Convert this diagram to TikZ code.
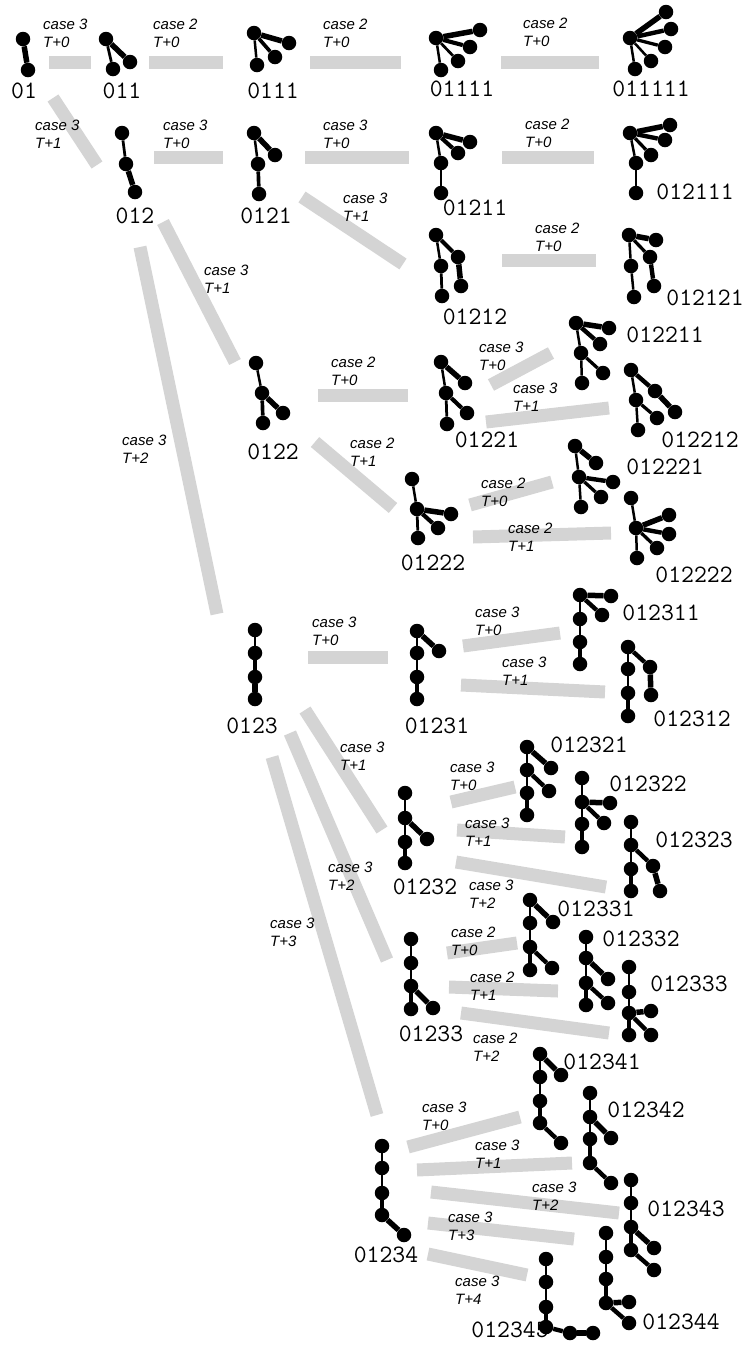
\documentclass[tikz,border=0pt]{standalone}
\usepackage{fontspec}
\newfontfamily\lblfont{Liberation Sans}
\definecolor{barc}{RGB}{212,212,212}
\tikzset{
  bar/.style={line width=13pt, draw=barc, line cap=butt},
  dot/.style={circle, fill=black, inner sep=0pt, minimum size=14.5pt},
  tl/.style={font=\fontsize{25}{25}\selectfont\ttfamily, inner sep=0pt},
  cl/.style={font=\fontsize{15}{18}\selectfont\lblfont\itshape, inner sep=0pt, anchor=base west},
}
\newcommand\conn[3]{\coordinate (#1s) at (#2); \coordinate (#1e) at (#3); \draw[bar] (#1s) -- (#1e);}
\newcommand\caselbl[4]{\node[cl] (#1) at (#2) {\vtop{\baselineskip=18pt\hbox{case #3}\hbox{T+#4}}};}
\newcommand\drawtree[3]{%
  \foreach \i/\x/\y/\p in {#3} {\node[dot] (#1-\i) at (\x,\y) {};}
  \foreach \i/\x/\y/\p in {#3} {\ifnum\i>0 \pgfmathsetmacro\w{max(2.5,5.5*\i/#2)}\draw[line width=\w pt] (#1-\p) -- (#1-\i);\fi}
}
\begin{document}
\begin{tikzpicture}[x=1pt,y=-1pt]
\useasboundingbox (0,0) rectangle (746,1345);
% connectors (gray bars)
\conn{b1}{49,62}{91,62}
\conn{b2}{149,62}{223,62}
\conn{b3}{310,62}{401,62}
\conn{b4}{501,62}{599,62}
\conn{b5}{53,98}{97,165}
\conn{b6}{154,157}{223,157}
\conn{b7}{305,157}{409,157}
\conn{b8}{502,157}{594,157}
\conn{b9}{302,197}{403,264}
\conn{b10}{502,260}{596,260}
\conn{b11}{163,222}{235,362}
\conn{b12}{140,247}{217,614}
\conn{b13}{318,395}{408,395}
\conn{b14}{315,442}{393,508}
\conn{b15}{491,385}{551,353}
\conn{b16}{486,422}{609,408}
\conn{b17}{470,505}{552,482}
\conn{b18}{473,537}{611,533}
\conn{b19}{308,657}{388,657}
\conn{b20}{463,646}{560,633}
\conn{b21}{461,685}{605,692}
\conn{b22}{305,710}{382,830}
\conn{b23}{290,733}{387,960}
\conn{b24}{272,757}{377,1115}
\conn{b25}{451,802}{515,787}
\conn{b26}{457,830}{565,837}
\conn{b27}{456,862}{606,887}
\conn{b28}{447,953}{517,943}
\conn{b29}{449,987}{558,991}
\conn{b30}{461,1013}{609,1033}
\conn{b31}{408,1147}{520,1117}
\conn{b32}{417,1170}{572,1163}
\conn{b33}{431,1192}{619,1213}
\conn{b34}{428,1223}{574,1239}
\conn{b35}{428,1254}{527,1275}
% connector labels
\caselbl{c1}{43,29}{3}{0}
\caselbl{c2}{153,29}{2}{0}
\caselbl{c3}{323,29}{2}{0}
\caselbl{c4}{523,28}{2}{0}
\caselbl{c5}{35,130}{3}{1}
\caselbl{c6}{163,130}{3}{0}
\caselbl{c7}{323,130}{3}{0}
\caselbl{c8}{525,129}{2}{0}
\caselbl{c9}{343,203}{3}{1}
\caselbl{c10}{204,275}{3}{1}
\caselbl{c11}{122,445}{3}{2}
\caselbl{c12}{331,367}{2}{0}
\caselbl{c13}{535,233}{2}{0}
\caselbl{c14}{479,352}{3}{0}
\caselbl{c15}{513,393}{3}{1}
\caselbl{c16}{350,448}{2}{1}
\caselbl{c17}{481,488}{2}{0}
\caselbl{c18}{508,533}{2}{1}
\caselbl{c19}{312,627}{3}{0}
\caselbl{c20}{475,617}{3}{0}
\caselbl{c21}{502,667}{3}{1}
\caselbl{c22}{340,752}{3}{1}
\caselbl{c23}{450,772}{3}{0}
\caselbl{c24}{465,828}{3}{1}
\caselbl{c25}{469,890}{3}{2}
\caselbl{c26}{328,872}{3}{2}
\caselbl{c27}{270,928}{3}{3}
\caselbl{c28}{451,937}{2}{0}
\caselbl{c29}{470,982}{2}{1}
\caselbl{c30}{473,1043}{2}{2}
\caselbl{c31}{422,1112}{3}{0}
\caselbl{c32}{475,1150}{3}{1}
\caselbl{c33}{532,1192}{3}{2}
\caselbl{c34}{448,1222}{3}{3}
\caselbl{c35}{455,1286}{3}{4}
% tree labels
\node[tl] (n01) at (24,91) {01};
\node[tl] (n011) at (122,91) {011};
\node[tl] (n0111) at (273,91) {0111};
\node[tl] (n01111) at (462,89) {01111};
\node[tl] (n011111) at (651,89) {011111};
\node[tl] (n012) at (135,216) {012};
\node[tl] (n0121) at (266,216) {0121};
\node[tl] (n01211) at (475,208) {01211};
\node[tl] (n012111) at (695,192) {012111};
\node[tl] (n01212) at (475,317) {01212};
\node[tl] (n012121) at (705,298) {012121};
\node[tl] (n012211) at (665,335) {012211};
\node[tl] (n01221) at (487,440) {01221};
\node[tl] (n012212) at (700,440) {012212};
\node[tl] (n0122) at (273,452) {0122};
\node[tl] (n012221) at (665,467) {012221};
\node[tl] (n01222) at (433,563) {01222};
\node[tl] (n012222) at (694,575) {012222};
\node[tl] (n012311) at (661,613) {012311};
\node[tl] (n0123) at (252,726) {0123};
\node[tl] (n01231) at (437,726) {01231};
\node[tl] (n012312) at (692,719) {012312};
\node[tl] (n012321) at (589,745) {012321};
\node[tl] (n012322) at (648,784) {012322};
\node[tl] (n012323) at (694,840) {012323};
\node[tl] (n01232) at (425,887) {01232};
\node[tl] (n012331) at (596,909) {012331};
\node[tl] (n012332) at (641,939) {012332};
\node[tl] (n012333) at (689,984) {012333};
\node[tl] (n01233) at (431,1034) {01233};
\node[tl] (n012341) at (602,1062) {012341};
\node[tl] (n012342) at (646,1110) {012342};
\node[tl] (n012343) at (686,1209) {012343};
\node[tl] (n01234) at (386,1255) {01234};
\node[tl] (n012344) at (681,1322) {012344};
\node[tl] (n012345) at (510,1330) {012345};
% trees
\drawtree{t01}{1}{0/23/39/0,1/28/70/0}
\drawtree{t011}{2}{0/106/39/0,1/113/69/0,2/130/62/0}
\drawtree{t0111}{3}{0/254/33/0,1/257/65/0,2/275/57/0,3/289/43/0}
\drawtree{t01111}{4}{0/436/38/0,1/441/70/0,2/458/61/0,3/470/47/0,4/480/30/0}
\drawtree{t011111}{5}{0/630/38/0,1/635/69/0,2/651/61/0,3/665/47/0,4/671/29/0,5/666/12/0}
\drawtree{t012}{2}{0/122/133/0,1/126/164/0,2/135/192/1}
\drawtree{t0121}{3}{0/254/133/0,1/258/164/0,2/259/194/1,3/275/155/0}
\drawtree{t01211}{4}{0/436/133/0,1/441/163/0,2/441/193/1,3/458/153/0,4/470/142/0}
\drawtree{t012111}{5}{0/630/133/0,1/636/163/0,2/636/193/1,3/651/155/0,4/665/140/0,5/670/125/0}
\drawtree{t0122}{3}{0/256/363/0,1/262/393/0,2/263/423/1,3/283/413/1}
\drawtree{t01212}{4}{0/436/235/0,1/441/266/0,2/442/296/1,3/458/257/0,4/461/286/3}
\drawtree{t012121}{5}{0/629/235/0,1/631/266/0,2/634/297/1,3/650/257/0,4/654/286/3,5/656/240/0}
\drawtree{t012211}{5}{0/576/323/0,1/581/353/0,2/582/383/1,3/603/373/1,4/600/344/0,5/609/328/0}
\drawtree{t01221}{4}{0/441/362/0,1/446/393/0,2/447/424/1,3/467/413/1,4/465/383/0}
\drawtree{t012212}{5}{0/631/370/0,1/636/400/0,2/638/430/1,3/657/418/1,4/655/391/0,5/675/412/4}
\drawtree{t01222}{4}{0/412/479/0,1/417/509/0,2/418/538/1,3/438/528/1,4/451/514/1}
\drawtree{t012221}{5}{0/575/446/0,1/579/477/0,2/581/507/1,3/601/497/1,4/613/482/1,5/596/463/0}
\drawtree{t012222}{5}{0/631/498/0,1/636/528/0,2/637/558/1,3/657/548/1,4/669/534/1,5/669/515/1}
\drawtree{t0123}{3}{0/255/630/0,1/255/653/0,2/255/677/1,3/255/699/2}
\drawtree{t01231}{4}{0/417/631/0,1/417/653/0,2/417/677/1,3/417/699/2,4/439/651/0}
\drawtree{t012311}{5}{0/580/595/0,1/580/619/0,2/580/642/1,3/580/664/2,4/602/615/0,5/611/596/0}
\drawtree{t012312}{5}{0/628/647/0,1/628/669/0,2/628/693/1,3/628/716/2,4/650/667/0,5/651/695/4}
\drawtree{t01232}{4}{0/405/793/0,1/405/818/0,2/405/842/1,3/405/863/2,4/427/839/1}
\drawtree{t012321}{5}{0/527/747/0,1/527/770/0,2/527/793/1,3/527/815/2,4/549/791/1,5/551/768/0}
\drawtree{t012322}{5}{0/582/778/0,1/582/802/0,2/582/824/1,3/582/847/2,4/604/823/1,5/610/803/1}
\drawtree{t012323}{5}{0/631/822/0,1/631/845/0,2/631/869/1,3/631/891/2,4/653/866/1,5/660/891/4}
\drawtree{t01233}{4}{0/411/939/0,1/411/963/0,2/411/986/1,3/411/1009/2,4/433/1008/2}
\drawtree{t012331}{5}{0/530/900/0,1/530/923/0,2/530/947/1,3/530/970/2,4/552/968/2,5/553/922/0}
\drawtree{t012332}{5}{0/586/937/0,1/586/958/0,2/586/983/1,3/586/1005/2,4/608/1003/2,5/608/979/1}
\drawtree{t012333}{5}{0/629/967/0,1/629/992/0,2/629/1013/1,3/629/1035/2,4/651/1035/2,5/651/1011/2}
\drawtree{t01234}{4}{0/382/1146/0,1/382/1168/0,2/382/1193/1,3/382/1215/2,4/404/1235/3}
\drawtree{t012341}{5}{0/540/1054/0,1/540/1077/0,2/540/1101/1,3/540/1123/2,4/561/1143/3,5/561/1075/0}
\drawtree{t012342}{5}{0/590/1093/0,1/590/1117/0,2/590/1139/1,3/590/1163/2,4/611/1183/3,5/611/1138/1}
\drawtree{t012343}{5}{0/631/1180/0,1/631/1203/0,2/631/1227/1,3/631/1250/2,4/654/1270/3,5/654/1248/2}
\drawtree{t012344}{5}{0/606/1233/0,1/606/1257/0,2/606/1279/1,3/606/1303/2,4/629/1323/3,5/629/1302/3}
\drawtree{t012345}{5}{0/546/1259/0,1/546/1282/0,2/546/1307/1,3/546/1327/2,4/570/1333/3,5/593/1333/4}
\end{tikzpicture}
\end{document}
